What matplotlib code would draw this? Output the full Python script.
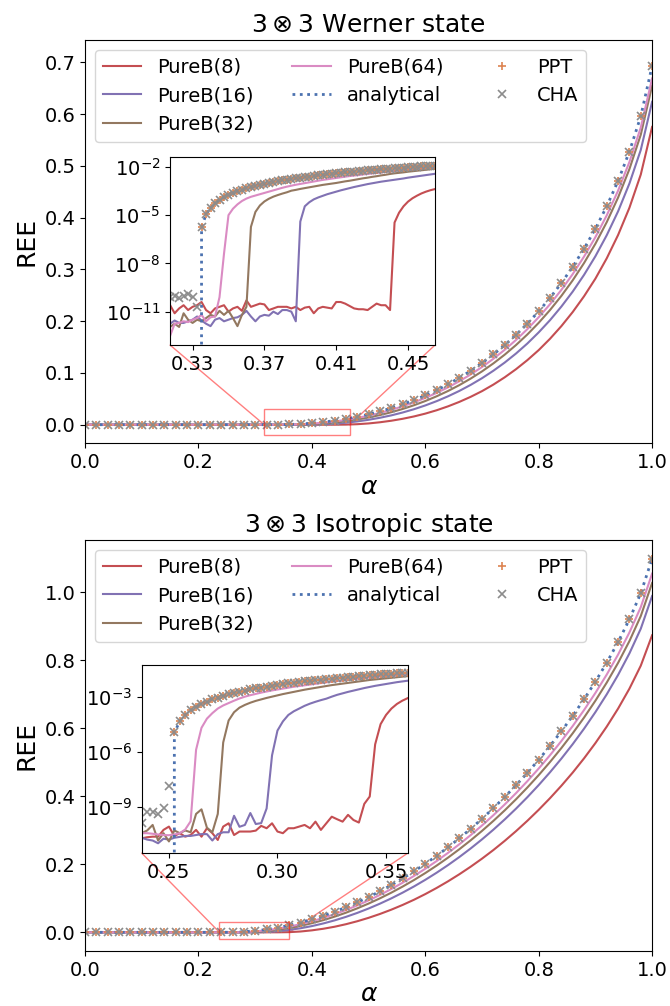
import numpy as np
import matplotlib
matplotlib.use("Agg")
import matplotlib.pyplot as plt
from matplotlib.ticker import NullLocator
from matplotlib.patches import Rectangle, ConnectionPatch

# ---------------- data: main panels (alpha = 0, 0.02, ..., 1.0) ----------------
alpha = np.linspace(0, 1, 51)

werner_exact = [0] * 17 + [
    0.0000283, 0.000459, 0.001428, 0.002962, 0.005087, 0.007833, 0.011233, 0.015321, 0.020136, 0.025715,
    0.032105, 0.039353, 0.047509, 0.056633, 0.066786, 0.078035, 0.090459, 0.104145, 0.119182, 0.135683,
    0.153764, 0.173568, 0.195253, 0.219008, 0.245054, 0.273664, 0.305164, 0.339978, 0.378656, 0.421957,
    0.471016, 0.527704, 0.595879, 0.693147]
werner_pureb8 = [0] * 23 + [
    0.000196, 0.00101, 0.00247, 0.00474, 0.00769, 0.01143, 0.01599, 0.02145, 0.02794, 0.03547,
    0.04409, 0.05387, 0.06487, 0.07747, 0.09156, 0.10728, 0.12477, 0.14415, 0.16610, 0.19053,
    0.21776, 0.24819, 0.28218, 0.32147, 0.36651, 0.41917, 0.48326, 0.5753]
werner_pureb16 = [0] * 20 + [
    0.000115, 0.000753, 0.00198, 0.00388, 0.00637, 0.00953, 0.01342, 0.01806, 0.02357, 0.02994,
    0.03725, 0.04551, 0.05485, 0.06527, 0.07694, 0.08985, 0.10422, 0.12004, 0.13757, 0.15689,
    0.17840, 0.20203, 0.22827, 0.25721, 0.28953, 0.32547, 0.36612, 0.41221, 0.46601, 0.53077,
    0.62383]
werner_pureb32 = [0] * 19 + [
    0.000214, 0.000971, 0.00230, 0.00429, 0.00684, 0.01007, 0.01400, 0.01866, 0.02412, 0.03041,
    0.03761, 0.04576, 0.05491, 0.06513, 0.07650, 0.08910, 0.10304, 0.11840, 0.13531, 0.15392,
    0.17437, 0.19686, 0.22161, 0.24888, 0.27900, 0.31240, 0.34961, 0.39138, 0.43885, 0.49386,
    0.56021, 0.65502]
werner_pureb64 = [0] * 18 + [
    0.000164, 0.000839, 0.00206, 0.00395, 0.00635, 0.00940, 0.01313, 0.01755, 0.02272, 0.02867,
    0.03549, 0.04317, 0.05179, 0.06141, 0.07216, 0.08400, 0.09707, 0.11146, 0.12735, 0.14472,
    0.16377, 0.18465, 0.20767, 0.23283, 0.26050, 0.29099, 0.32489, 0.36242, 0.40447, 0.45216,
    0.50759, 0.57404, 0.66889]

iso_exact = [0] * 13 + [
    0.000177, 0.00158, 0.004354, 0.008475, 0.013917, 0.020663, 0.028698, 0.038010, 0.048592, 0.060441,
    0.073554, 0.087935, 0.103585, 0.120516, 0.138740, 0.158273, 0.179132, 0.201342, 0.224928, 0.249936,
    0.276392, 0.304348, 0.333858, 0.364983, 0.397801, 0.432402, 0.468883, 0.507379, 0.548038, 0.591054,
    0.636668, 0.685187, 0.737040, 0.792817, 0.853429, 0.920413, 0.997029, 1.098612]
iso_pureb8 = [0] * 18 + [
    0.000469, 0.002354, 0.005758, 0.010391, 0.016363, 0.023785, 0.032527, 0.042564, 0.053899, 0.066530,
    0.080452, 0.095689, 0.112379, 0.130428, 0.149843, 0.170643, 0.192884, 0.216587, 0.241823, 0.268820,
    0.297479, 0.327915, 0.360204, 0.394506, 0.430971, 0.469785, 0.511571, 0.556410, 0.604881, 0.657780,
    0.716471, 0.783928, 0.873397]
iso_pureb16 = [0] * 15 + [
    0.0000073, 0.000875, 0.003164, 0.00693, 0.01194, 0.018287, 0.025973, 0.035025, 0.045375, 0.057023,
    0.069965, 0.084198, 0.099741, 0.116600, 0.134789, 0.154329, 0.175231, 0.197542, 0.221297, 0.246526,
    0.273284, 0.301676, 0.331778, 0.363626, 0.397321, 0.432977, 0.470730, 0.510791, 0.553379, 0.598786,
    0.647422, 0.699831, 0.756931, 0.820173, 0.892671, 0.988751]
iso_pureb32 = [0] * 14 + [
    0.0000537, 0.001142, 0.003608, 0.007484, 0.012603, 0.019025, 0.026735, 0.035746, 0.046039, 0.057598,
    0.070418, 0.084503, 0.099858, 0.116494, 0.134425, 0.153666, 0.174239, 0.196170, 0.219490, 0.244240,
    0.270458, 0.298199, 0.327520, 0.358495, 0.391210, 0.425761, 0.462273, 0.500893, 0.541804, 0.585241,
    0.631500, 0.680992, 0.734290, 0.792272, 0.856422, 0.929880, 1.027202]
iso_pureb64 = [0] * 14 + [
    0.000629, 0.00263, 0.006134, 0.010795, 0.016754, 0.023991, 0.032498, 0.042265, 0.053285, 0.065555,
    0.079078, 0.093852, 0.109893, 0.127205, 0.145807, 0.165713, 0.186948, 0.209534, 0.233514, 0.258918,
    0.285792, 0.314186, 0.344169, 0.375803, 0.409187, 0.444409, 0.481599, 0.520906, 0.562514, 0.606660,
    0.653644, 0.703880, 0.757945, 0.816726, 0.881719, 0.956096, 1.054668]

# ---------------- data: zoomed insets (log scale) ----------------
werner_zoom_x = np.linspace(0.3175, 0.465, 60)
werner_zoom_exact = [0] * 7 + [
    1.76e-6, 1.10e-5, 2.83e-5, 5.35e-5, 8.69e-5, 1.284e-4, 1.780e-4, 2.359e-4, 3.020e-4, 3.764e-4,
    4.591e-4, 5.503e-4, 6.499e-4, 7.580e-4, 8.747e-4, 1.000e-3, 1.134e-3, 1.276e-3, 1.428e-3, 1.588e-3,
    1.757e-3, 1.935e-3, 2.121e-3, 2.317e-3, 2.522e-3, 2.736e-3, 2.962e-3, 3.194e-3, 3.436e-3, 3.687e-3,
    3.948e-3, 4.218e-3, 4.498e-3, 4.788e-3, 5.087e-3, 5.395e-3, 5.714e-3, 6.042e-3, 6.380e-3, 6.728e-3,
    7.087e-3, 7.454e-3, 7.833e-3, 8.221e-3, 8.621e-3, 9.030e-3, 9.449e-3, 9.879e-3, 1.0320e-2, 1.0770e-2,
    1.1233e-2, 1.1705e-2, 1.2189e-2]
werner_zoom_cha_low_log = [-10.1, -10.0, -10.15, -10.05, -9.9, -10.1, -10.7]
werner_zoom_pureb8_log = [
    -10.6, -11.1, -10.8, -10.6, -10.9, -10.7, -10.6, -10.4, -10.9, -11.1,
    -10.8, -10.7, -10.6, -11.0, -10.8, -10.7, -10.95, -10.3, -10.7, -10.6,
    -10.5, -10.55, -10.9, -10.8, -10.7, -10.7, -10.7, -10.8, -10.7, -10.9,
    -10.75, -10.7, -11.1, -10.8, -10.7, -10.75, -10.8, -10.4, -10.4, -10.5,
    -10.65, -10.8, -10.85, -10.85, -10.9, -10.7, -10.5, -10.6, -10.6, -10.9,
    -5.46, -4.85, -4.45, -4.16, -3.95, -3.79, -3.65, -3.54, -3.45, -3.38]
werner_zoom_pureb16_log = [
    -11.75, -11.55, -11.7, -11.7, -11.6, -11.5, -11.3, -11.55, -11.75, -11.9,
    -11.5, -11.4, -11.6, -11.5, -11.4, -11.35, -11.2, -10.95, -11.3, -11.6,
    -11.3, -11.2, -11.25, -11.0, -11.15, -10.9, -10.9, -11.0, -11.6, -5.4,
    -4.45, -4.2, -4.02, -3.9, -3.8, -3.70, -3.62, -3.54, -3.46, -3.39,
    -3.32, -3.25, -3.19, -3.13, -3.07, -3.02, -2.97, -2.92, -2.88, -2.84,
    -2.80, -2.76, -2.72, -2.67, -2.63, -2.59, -2.55, -2.51, -2.47, -2.43]
werner_zoom_pureb32_log = [
    -11.95, -11.75, -11.95, -11.1, -11.5, -11.7, -11.5, -11.6, -11.4, -11.2,
    -11.3, -10.95, -11.2, -10.95, -11.4, -11.9, -11.2, -10.7, -5.73, -4.8,
    -4.4, -4.15, -3.98, -3.85, -3.75, -3.66, -3.58, -3.48, -3.43, -3.37,
    -3.32, -3.27, -3.22, -3.17, -3.12, -3.08, -3.04, -3.0, -2.95, -2.9,
    -2.86, -2.81, -2.76, -2.71, -2.67, -2.62, -2.58, -2.53, -2.49, -2.44,
    -2.40, -2.37, -2.34, -2.30, -2.27, -2.24, -2.21, -2.18, -2.15, -2.12]
werner_zoom_pureb64_log = [
    -12.5, -11.75, -11.7, -11.6, -11.65, -11.5, -11.4, -11.2, -11.6, -11.35,
    -11.3, -10.1, -7.4, -5.0, -4.6, -4.33, -4.12, -3.97, -3.86, -3.78,
    -3.70, -3.62, -3.54, -3.46, -3.38, -3.30, -3.23, -3.17, -3.11, -3.06,
    -3.01, -2.96, -2.91, -2.86, -2.81, -2.77, -2.73, -2.69, -2.65, -2.61,
    -2.57, -2.54, -2.51, -2.47, -2.44, -2.41, -2.38, -2.35, -2.31, -2.28,
    -2.255, -2.23, -2.2, -2.17, -2.15, -2.12, -2.09, -2.06, -2.04, -2.01]

iso_zoom_x = np.linspace(0.2375, 0.36, 50)
iso_zoom_exact = [0] * 6 + [
    1.111e-5, 4.444e-5, 9.967e-5, 1.770e-4, 2.762e-4, 3.974e-4, 5.402e-4, 7.048e-4, 8.914e-4, 1.0994e-3,
    1.3289e-3, 1.580e-3, 1.8525e-3, 2.1463e-3, 2.4614e-3, 2.7978e-3, 3.1555e-3, 3.5345e-3, 3.9344e-3, 4.3555e-3,
    4.7977e-3, 5.2608e-3, 5.7449e-3, 6.2498e-3, 6.7756e-3, 7.320e-3, 7.8868e-3, 8.4745e-3, 9.0826e-3, 9.7116e-3,
    1.03611e-2, 1.10311e-2, 1.17215e-2, 1.24322e-2, 1.31635e-2, 1.39152e-2, 1.46873e-2, 1.54796e-2, 1.62924e-2,
    1.71242e-2, 1.79779e-2, 1.88513e-2, 1.97438e-2, 2.06574e-2]
iso_zoom_cha_low_log = [-9.9, -9.3, -9.3, -9.4, -9.1, -7.9]
iso_zoom_pureb8_log = [
    -10.73, -10.67, -10.64, -10.64, -10.27, -10.09, -10.6, -10.45, -10.64, -10.55,
    -10.27, -10.64, -10.18, -10.45, -10.82, -10.09, -9.91, -10.55, -10.36, -10.36,
    -10.36, -10.31, -10.05, -10.18, -9.91, -10.36, -10.45, -10.18, -10.18, -10.09,
    -10.0, -10.18, -9.82, -10.27, -9.91, -9.55, -9.69, -9.82, -9.45, -9.73,
    -9.87, -8.85, -8.45, -5.6, -4.5, -4.0, -3.65, -3.4, -3.22, -3.08]
iso_zoom_pureb16_log = [
    -10.7, -10.8, -10.85, -11.0, -10.75, -10.8, -10.7, -10.65, -10.6, -10.6,
    -10.55, -10.5, -10.5, -10.85, -10.5, -10.4, -10.4, -9.5, -10.1, -10.0,
    -9.35, -9.95, -9.9, -9.1, -6.2, -4.85, -4.35, -4.0, -3.8, -3.65,
    -3.5, -3.38, -3.28, -3.19, -3.11, -3.0, -2.9, -2.82, -2.74, -2.67,
    -2.6, -2.53, -2.47, -2.41, -2.36, -2.31, -2.26, -2.21, -2.17, -2.13]
iso_zoom_pureb32_log = [
    -10.45, -10.3, -10.0, -10.85, -10.45, -10.9, -10.3, -10.45, -10.3, -10.4,
    -9.4, -9.15, -10.15, -10.4, -9.4, -5.5, -4.3, -3.85, -3.6, -3.45,
    -3.33, -3.23, -3.15, -3.07, -3.0, -2.93, -2.86, -2.8, -2.74, -2.68,
    -2.62, -2.57, -2.52, -2.47, -2.42, -2.37, -2.33, -2.29, -2.25, -2.21,
    -2.17, -2.13, -2.09, -2.06, -2.03, -2.0, -1.97, -1.94, -1.91, -1.88]
iso_zoom_pureb64_log = [
    -10.45, -10.45, -10.48, -10.52, -10.55, -10.56, -10.52, -10.45, -10.25, -9.8,
    -5.9, -4.7, -4.2, -3.9, -3.65, -3.48, -3.35, -3.22, -3.1, -3.0,
    -2.92, -2.85, -2.78, -2.72, -2.66, -2.61, -2.56, -2.51, -2.46, -2.42,
    -2.38, -2.34, -2.3, -2.26, -2.22, -2.18, -2.15, -2.12, -2.08, -2.05,
    -2.02, -1.99, -1.96, -1.93, -1.91, -1.88, -1.86, -1.83, -1.81, -1.79]

# ---------------- style ----------------
labels = ["PureB(8)", "PureB(16)", "PureB(32)", "PureB(64)"]
colors = ["#C44E52", "#8172B3", "#937860", "#DA8BC3"]
c_exact = "#4C72B0"
c_ppt = "#DD8452"
c_cha = "#8C8C8C"
FS = 14
FS_LABEL = 18


def draw_curves(ax, x, pureb, exact, cha, ms=6, with_labels=True):
    for vals, lab, col in zip(pureb, labels, colors):
        ax.plot(x, vals, color=col, lw=1.5, label=lab if with_labels else None)
    ax.plot(x, exact, ":", color=c_exact, lw=2, label="analytical" if with_labels else None)
    ax.plot(x, exact, "+", color=c_ppt, ms=ms, mew=1.2, ls="none", label="PPT" if with_labels else None)
    ax.plot(x, cha, "x", color=c_cha, ms=ms, mew=1.2, ls="none", label="CHA" if with_labels else None)


def draw_panel(ax, title, pureb, exact, ylim, zoom, ins_pos, rect):
    draw_curves(ax, alpha, pureb, exact, exact)
    ax.set_xlim(0, 1)
    ax.set_ylim(*ylim)
    ax.set_title(title, fontsize=FS_LABEL)
    ax.set_xlabel(r"$\alpha$", fontsize=FS_LABEL, labelpad=2)
    ax.set_ylabel("REE", fontsize=FS_LABEL)
    ax.tick_params(labelsize=FS)
    ax.legend(loc="upper left", ncol=3, fontsize=FS)

    zx, zpure, zexact, zcha, zylim, zticks, zxticks = zoom
    axins = ax.inset_axes(ins_pos)
    draw_curves(axins, zx, [10 ** np.array(v) for v in zpure], zexact, zcha, ms=6, with_labels=False)
    axins.set_yscale("log")
    axins.set_xlim(zx[0], zx[-1])
    axins.set_ylim(*zylim)
    axins.set_yticks(zticks)
    axins.yaxis.set_minor_locator(NullLocator())
    axins.set_xticks(zxticks)
    axins.tick_params(labelsize=FS)

    # zoom box and the two lines joining it to the inset
    ax.add_patch(Rectangle((rect[0], rect[1]), rect[2], rect[3], fill=False,
                           edgecolor="red", alpha=0.5, lw=1, zorder=4))
    for cx in (0, 1):
        con = ConnectionPatch(xyA=(cx, 0), coordsA=axins.transAxes,
                              xyB=(rect[0] + cx * rect[2], 0), coordsB=ax.transData,
                              color="red", alpha=0.5, lw=1, zorder=1.5)
        ax.add_artist(con)


fig = plt.figure(figsize=(6.7, 10.06), dpi=100)
ax1 = fig.add_axes([0.127, 0.5596, 0.8463, 0.4006])
ax2 = fig.add_axes([0.127, 0.0547, 0.8463, 0.4085])

werner_zoom_cha = list(10 ** np.array(werner_zoom_cha_low_log)) + werner_zoom_exact[7:]
iso_zoom_cha = list(10 ** np.array(iso_zoom_cha_low_log)) + iso_zoom_exact[6:]

draw_panel(ax1, r"$3\otimes3$ Werner state",
           [werner_pureb8, werner_pureb16, werner_pureb32, werner_pureb64], werner_exact,
           (-0.0354, 0.7431),
           (werner_zoom_x,
            [werner_zoom_pureb8_log, werner_zoom_pureb16_log, werner_zoom_pureb32_log, werner_zoom_pureb64_log],
            werner_zoom_exact, werner_zoom_cha, (10 ** -13.08, 10 ** -1.38),
            [1e-11, 1e-8, 1e-5, 1e-2], [0.33, 0.37, 0.41, 0.45]),
           [0.150, 0.243, 0.467, 0.467], [0.316, -0.02, 0.1505, 0.05])

draw_panel(ax2, r"$3\otimes3$ Isotropic state",
           [iso_pureb8, iso_pureb16, iso_pureb32, iso_pureb64], iso_exact,
           (-0.0549, 1.1535),
           (iso_zoom_x,
            [iso_zoom_pureb8_log, iso_zoom_pureb16_log, iso_zoom_pureb32_log, iso_zoom_pureb64_log],
            iso_zoom_exact, iso_zoom_cha, (10 ** -11.54, 10 ** -1.27),
            [1e-9, 1e-6, 1e-3], [0.25, 0.30, 0.35]),
           [0.100, 0.238, 0.469, 0.458], [0.237, -0.02, 0.1232, 0.05])

fig.savefig("out.png", dpi=100)
